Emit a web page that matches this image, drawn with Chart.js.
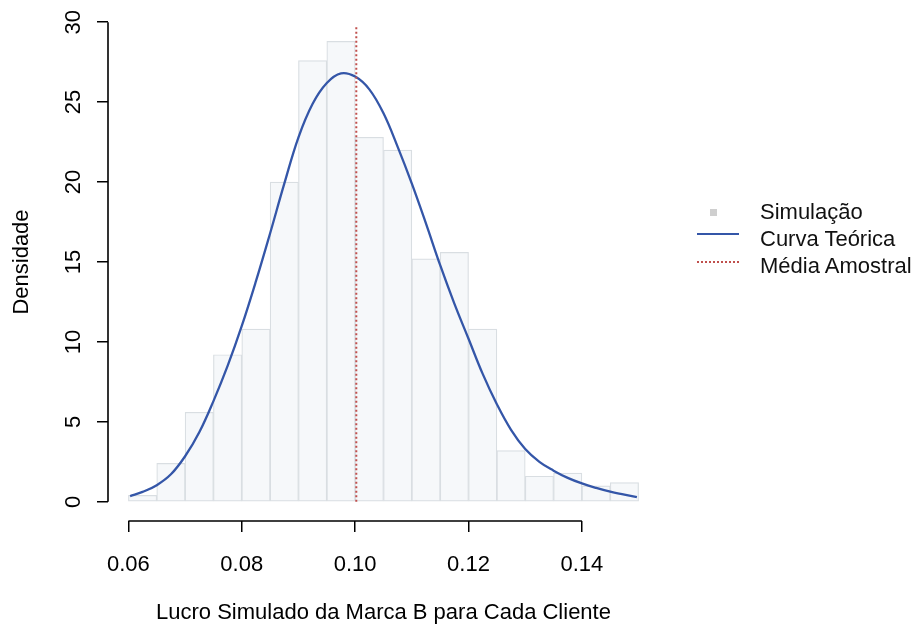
<!DOCTYPE html>
<html>
<head>
<meta charset="utf-8">
<script src="https://cdn.jsdelivr.net/npm/chart.js@4.4.1/dist/chart.umd.min.js"></script>
<style>
  body { margin: 0; background: #fff; }
  #wrap { position: relative; width: 915px; height: 627px; }
  .lg-text { position: absolute; left: 760px; font: 22px 'Liberation Sans', Arial, sans-serif; line-height: 22px; color: #111; white-space: nowrap; }
  .lg-key { position: absolute; }
</style>
</head>
<body>
<div id="wrap">
  <canvas id="histChart" width="915" height="627"></canvas>
  <div class="lg-key" style="left:710px; top:209px; width:7px; height:7px; background:#cfcfcf;"></div>
  <div class="lg-key" style="left:697px; top:233px; width:42px; border-top:2px solid #3456a8;"></div>
  <div class="lg-key" style="left:697px; top:261px; width:42px; border-top:2px dotted #c0504d;"></div>
  <div class="lg-text" style="top:201px;">Simulação</div>
  <div class="lg-text" style="top:228px;">Curva Teórica</div>
  <div class="lg-text" style="top:255px;">Média Amostral</div>
</div>
<script>
// Histogram bins (centers) and densities
const binCenters = [0.0625, 0.0675, 0.0725, 0.0775, 0.0825, 0.0875, 0.0925, 0.0975, 0.1025,
                    0.1075, 0.1125, 0.1175, 0.1225, 0.1275, 0.1325, 0.1375, 0.1425, 0.1475];
const densities = [0.4, 2.4, 5.6, 9.2, 10.8, 20.0, 27.6, 28.8, 22.8,
                   22.0, 15.2, 15.6, 10.8, 3.2, 1.6, 1.8, 1.0, 1.2];

// Theoretical curve
const curveX = [0.0603, 0.0625, 0.065, 0.0675, 0.070, 0.0725, 0.075, 0.0775, 0.080, 0.0825,
                0.085, 0.0875, 0.090, 0.0925, 0.095, 0.0975, 0.100, 0.1025, 0.105, 0.1075,
                0.110, 0.1125, 0.115, 0.1175, 0.120, 0.1225, 0.125, 0.1275, 0.130, 0.1325,
                0.135, 0.1375, 0.140, 0.1425, 0.145, 0.1475, 0.1497];
const curveY = [0.36, 0.62, 1.04, 1.72, 2.85, 4.35, 6.3, 8.5, 11.0, 13.8,
                16.8, 19.9, 22.8, 24.9, 26.2, 26.8, 26.6, 25.8, 24.3, 22.2,
                19.9, 17.4, 14.8, 12.4, 10.2, 8.0, 6.1, 4.5, 3.3, 2.5,
                1.95, 1.5, 1.15, 0.87, 0.63, 0.45, 0.29];

// Sample mean line
const meanX = 0.1002;
const meanTop = 29.8;

// Axis ticks
const xTicks = [0.06, 0.08, 0.10, 0.12, 0.14];
const yTicks = [0, 5, 10, 15, 20, 25, 30];

Chart.defaults.font.family = "'Liberation Sans', Arial, sans-serif";
Chart.defaults.font.size = 22;
Chart.defaults.color = '#000';

// R-style axis lines that only span the first to last tick
const rAxes = {
    id: 'rAxes',
    afterDraw(chart) {
        const { ctx, scales: { x, y } } = chart;
        ctx.save();
        ctx.strokeStyle = '#000';
        ctx.lineWidth = 1.6;
        ctx.beginPath();
        ctx.moveTo(x.getPixelForValue(xTicks[0]), x.top);
        ctx.lineTo(x.getPixelForValue(xTicks[xTicks.length - 1]), x.top);
        ctx.moveTo(y.right, y.getPixelForValue(yTicks[0]));
        ctx.lineTo(y.right, y.getPixelForValue(yTicks[yTicks.length - 1]));
        ctx.stroke();
        ctx.restore();
    }
};

const ctx = document.getElementById('histChart').getContext('2d');
new Chart(ctx, {
    data: {
        datasets: [
            {
                type: 'line',
                label: 'Média Amostral',
                data: [{ x: meanX, y: 0 }, { x: meanX, y: meanTop }],
                borderColor: '#c0504d',
                borderWidth: 2,
                borderDash: [2, 2.5],
                pointRadius: 0,
                order: 1
            },
            {
                type: 'line',
                label: 'Curva Teórica',
                data: curveX.map((v, i) => ({ x: v, y: curveY[i] })),
                borderColor: '#3456a8',
                borderWidth: 2.3,
                pointRadius: 0,
                tension: 0.4,
                order: 2
            },
            {
                type: 'bar',
                label: 'Simulação',
                data: binCenters.map((v, i) => ({ x: v, y: densities[i] })),
                backgroundColor: '#f6f8fa',
                borderColor: '#d9dee2',
                borderWidth: 1.2,
                borderSkipped: false,
                barPercentage: 1,
                categoryPercentage: 1,
                order: 3
            }
        ]
    },
    options: {
        responsive: false,
        animation: false,
        layout: { padding: { left: 0, right: 256, top: 3, bottom: 0 } },
        plugins: {
            legend: { display: false },
            tooltip: { enabled: false }
        },
        scales: {
            x: {
                type: 'linear',
                min: 0.0564,
                max: 0.1536,
                offset: false,
                afterBuildTicks: scale => { scale.ticks = xTicks.map(v => ({ value: v })); },
                afterFit: scale => { scale.height = 106; scale.paddingLeft = 0; scale.paddingRight = 0; },
                border: { display: false },
                grid: { offset: false, drawOnChartArea: false, color: '#000', lineWidth: 1.5, tickLength: 11 },
                ticks: {
                    padding: 20,
                    maxRotation: 0,
                    callback: v => v.toFixed(2)
                },
                title: {
                    display: true,
                    text: 'Lucro Simulado da Marca B para Cada Cliente',
                    padding: { top: 0, bottom: 1 }
                }
            },
            y: {
                type: 'linear',
                min: -1.2,
                max: 31.2,
                afterBuildTicks: scale => { scale.ticks = yTicks.map(v => ({ value: v })); },
                afterFit: scale => { scale.width = 108; scale.paddingTop = 0; scale.paddingBottom = 0; },
                border: { display: false },
                grid: { drawOnChartArea: false, color: '#000', lineWidth: 1.5, tickLength: 11 },
                ticks: {
                    padding: 11,
                    crossAlign: 'center',
                    minRotation: 90,
                    maxRotation: 90
                },
                title: {
                    display: true,
                    text: 'Densidade',
                    padding: { top: 9, bottom: 0 }
                }
            }
        }
    },
    plugins: [rAxes]
});
</script>
</body>
</html>
